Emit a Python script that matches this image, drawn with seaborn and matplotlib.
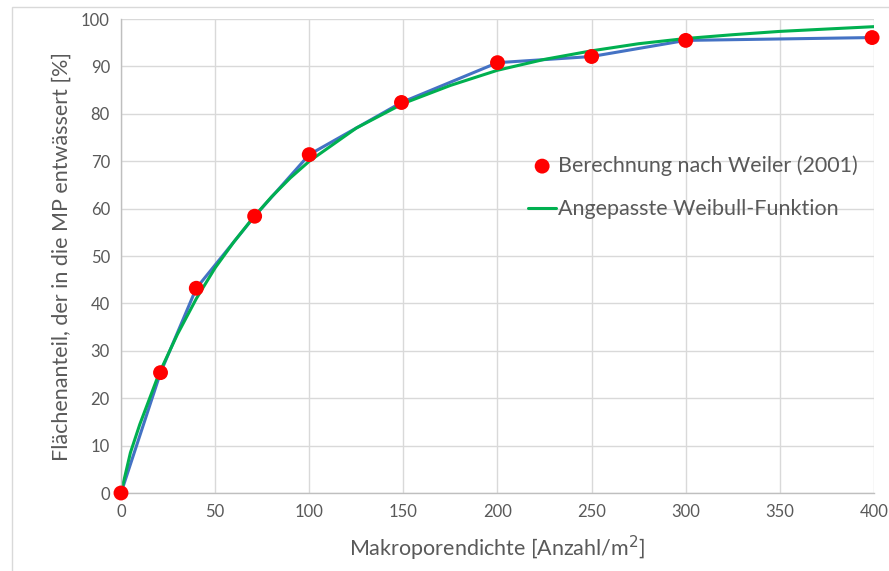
import matplotlib
matplotlib.use("Agg")
import matplotlib.pyplot as plt
import seaborn as sns
import pandas as pd
from matplotlib.patches import Rectangle

# Berechnung nach Weiler (2001)
dichte = [0, 21, 40, 71, 100, 149, 200, 250, 300, 399]
anteil = [0, 25.4, 43.2, 58.4, 71.4, 82.4, 90.8, 92.1, 95.5, 96.1]

# Angepasste Weibull-Funktion
fit_x = [0, 5, 10, 20, 30, 40, 50, 60, 70, 80, 90, 100, 125, 150, 175,
         200, 225, 250, 275, 300, 325, 350, 375, 400]
fit_y = [0, 8.5, 14.5, 25.0, 33.5, 41.0, 47.5, 53.0, 58.0, 62.5, 66.5, 70.0,
         77.0, 82.2, 86.0, 89.2, 91.5, 93.3, 94.8, 95.9, 96.7, 97.4, 97.9, 98.4]

pts = pd.DataFrame({"x": dichte, "y": anteil})
fit = pd.DataFrame({"x": fit_x, "y": fit_y})

sns.set_theme(style="white")
plt.rcParams["font.family"] = ["Lato", "DejaVu Sans"]

fig = plt.figure(figsize=(8.89, 5.71), dpi=100)
fig.patches.append(Rectangle((12 / 889, -0.1), 1.2, 1 - 7 / 571 + 0.1,
                             transform=fig.transFigure, fill=False,
                             edgecolor="#D9D9D9", linewidth=1))
ax = fig.add_axes([0.1361, 0.1366, 0.847, 0.830])

sns.lineplot(data=pts, x="x", y="y", ax=ax, color="#4472C4", linewidth=2.2,
             legend=False, label="_nolegend_")
sns.lineplot(data=fit, x="x", y="y", ax=ax, color="#00B050", linewidth=2.2,
             label="Angepasste Weibull-Funktion")
sns.scatterplot(data=pts, x="x", y="y", ax=ax, color="#FF0000", s=115,
                edgecolor="none", zorder=5, clip_on=False,
                label="Berechnung nach Weiler (2001)")

ax.set_xlim(0, 400)
ax.set_ylim(0, 100)
ax.set_xticks(range(0, 401, 50))
ax.set_yticks(range(0, 101, 10))
ax.grid(True, color="#D9D9D9", linewidth=1)
ax.set_axisbelow(True)
for s in ["top", "right"]:
    ax.spines[s].set_visible(False)
for s in ["left", "bottom"]:
    ax.spines[s].set_color("#BFBFBF")
    ax.spines[s].set_linewidth(1)
ax.tick_params(axis="both", length=0, labelsize=12, colors="#595959", pad=8)

ax.set_xlabel("Makroporendichte [Anzahl/m$^2$]", fontsize=15.5,
              color="#595959", labelpad=10)
ax.set_ylabel("Flächenanteil, der in die MP entwässert [%]", fontsize=15.5,
              color="#595959", labelpad=7)

handles, labels = ax.get_legend_handles_labels()
order = [labels.index("Berechnung nach Weiler (2001)"),
         labels.index("Angepasste Weibull-Funktion")]
leg = ax.legend([handles[i] for i in order], [labels[i] for i in order],
                loc="center left", bbox_to_anchor=(0.515, 0.645), frameon=False,
                fontsize=15.5, handlelength=1.3, handletextpad=0.1,
                labelspacing=1.1, labelcolor="#595959")

fig.savefig("out.png", dpi=100)
